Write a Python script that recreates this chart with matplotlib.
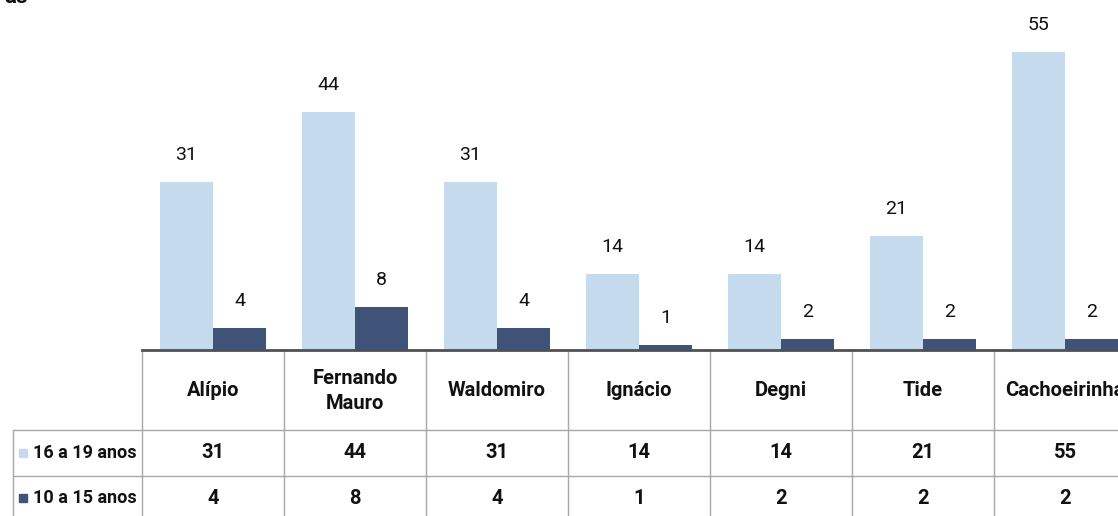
import numpy as np
from matplotlib import pyplot as plt
from matplotlib.patches import Rectangle

categories = ["Alípio", "Fernando\nMauro", "Waldomiro", "Ignácio", "Degni", "Tide", "Cachoeirinha"]
series_names = ["16 a 19 anos", "10 a 15 anos"]
values_16_19 = [31, 44, 31, 14, 14, 21, 55]
values_10_15 = [4, 8, 4, 1, 2, 2, 2]

light = "#C6DAEE"
dark = "#3F5379"
font = ["Roboto", "DejaVu Sans"]

W, H = 1118, 516
fig = plt.figure(figsize=(W / 100, H / 100), dpi=100)

# chart area in pixels: left edge 142, baseline at y=350, 142 px per category
ax = fig.add_axes([142 / W, (H - 350) / H, 994 / W, 325 / H])
x = np.arange(len(categories)) + 0.5
bw = 0.373
ax.bar(x - bw / 2, values_16_19, bw, color=light, zorder=2)
ax.bar(x + bw / 2, values_10_15, bw, color=dark, zorder=2)
for xs, vals in [(x - bw / 2, values_16_19), (x + bw / 2, values_10_15)]:
    for xi, v in zip(xs, vals):
        ax.annotate(str(v), (xi, v), xytext=(0, 13), textcoords="offset points",
                    ha="center", va="bottom", fontsize=14, family=font, color="#111")
ax.set_xlim(0, 7)
ax.set_ylim(0, 60)
ax.axis("off")

# data table drawn in pixel coordinates over the whole figure
tab = fig.add_axes([0, 0, 1, 1])
tab.set_xlim(0, W)
tab.set_ylim(H, 0)
tab.axis("off")
tab.patch.set_alpha(0)

grid = "#A8A8A8"
for k in range(len(categories)):
    tab.plot([142 + k * 142] * 2, [352, H], color=grid, lw=1)
tab.plot([13, 13], [430, H], color=grid, lw=1)
tab.plot([13, W], [430, 430], color=grid, lw=1)
tab.plot([13, W], [476, 476], color=grid, lw=1)
tab.plot([142, W], [350, 350], color="#505050", lw=2)

for k, name in enumerate(categories):
    cx = 213 + k * 142
    tab.text(cx, 391, name, ha="center", va="center", fontsize=14.5,
             fontweight="bold", family=font, color="#111", linespacing=1.35)
    tab.text(cx, 453, str(values_16_19[k]), ha="center", va="center",
             fontsize=14.5, fontweight="bold", family=font, color="#111")
    tab.text(cx, 498, str(values_10_15[k]), ha="center", va="center",
             fontsize=14.5, fontweight="bold", family=font, color="#111")

for row_y, name, col in [(453, series_names[0], light), (498, series_names[1], dark)]:
    tab.add_patch(Rectangle((19, row_y - 4), 8, 8, color=col))
    tab.text(33, row_y, name, ha="left", va="center", fontsize=13,
             fontweight="bold", family=font, color="#111")

# cut-off title fragment at the top-left corner
tab.text(4, 3, "as", ha="left", va="baseline", fontsize=16, fontweight="bold",
         family=font, color="#111")

fig.savefig("out.png", dpi=100)
